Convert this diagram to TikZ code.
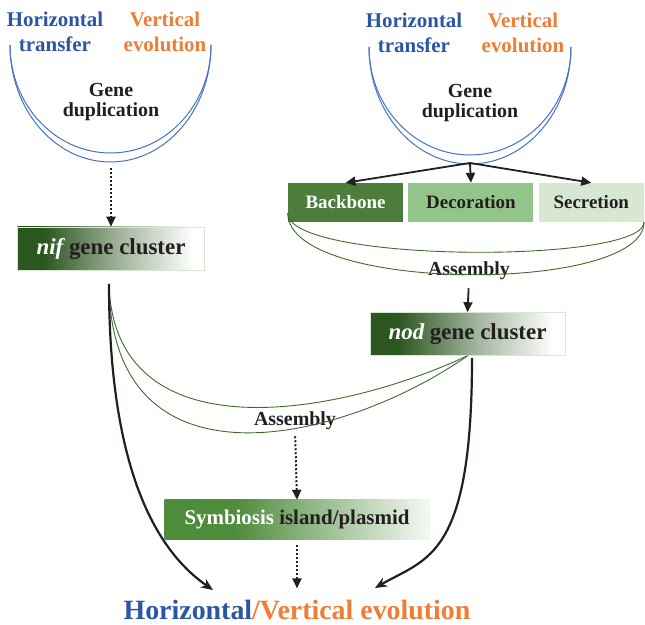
\documentclass[tikz,border=0pt]{standalone}
\usepackage{fontspec}
\setmainfont{Liberation Serif}
\usetikzlibrary{arrows.meta,positioning,calc}
\definecolor{HorizBlue}{HTML}{2B55A5}
\definecolor{VertOrange}{HTML}{EE7D35}
\definecolor{ArcBlue}{HTML}{4472C4}
\definecolor{InkBlack}{HTML}{231F20}
\definecolor{BackboneGreen}{HTML}{4C7D3B}
\definecolor{DecorGreen}{HTML}{93C48A}
\definecolor{SecretGreen}{HTML}{D6E8D1}
\definecolor{ClusterDark}{HTML}{2C5620}
\definecolor{IslandGreen}{HTML}{4E8B3B}
\definecolor{AsmGreen}{HTML}{3E6B2C}
\colorlet{IslandPale}{IslandGreen!8!white}
\colorlet{ClusterMid}{ClusterDark!45!white}
\pgfdeclarehorizontalshading{clustershade}{100bp}{color(0bp)=(ClusterDark); color(32bp)=(ClusterDark); color(52bp)=(ClusterMid); color(72bp)=(white); color(100bp)=(white)}
\pgfdeclarehorizontalshading{islandshade}{100bp}{color(0bp)=(IslandGreen); color(38bp)=(IslandGreen); color(74bp)=(IslandPale); color(100bp)=(white)}

\begin{document}
\begin{tikzpicture}[x=1bp, y=1bp,
    lbl/.style={font=\bfseries\fontsize{21}{25}\selectfont, align=center, inner sep=0pt},
    gene/.style={font=\bfseries\fontsize{20}{21}\selectfont, text=InkBlack, align=center, inner sep=0pt},
    part/.style={font=\bfseries\fontsize{19}{19}\selectfont, minimum height=39bp, inner sep=0pt},
    cluster/.style={shading=clustershade, draw=SecretGreen, line width=0.6bp, font=\bfseries\fontsize{23}{23}\selectfont, text=InkBlack, minimum height=43bp, inner sep=0pt},
    island/.style={shading=islandshade, font=\bfseries\fontsize{21}{21}\selectfont, text=InkBlack, minimum height=40bp, inner sep=0pt},
    dupline/.style={draw=ArcBlue, line width=1bp},
    asmline/.style={draw=AsmGreen, line width=0.9bp},
    solidarr/.style={-{Triangle[length=10bp,width=9bp]}, line width=1.8bp, draw=InkBlack},
    dotarr/.style={-{Triangle[length=10bp,width=9bp]}, dash pattern=on 2bp off 2bp, line width=2bp, draw=InkBlack},
    bigarr/.style={-{Stealth[length=12bp,width=10bp]}, line width=2.2bp, draw=InkBlack}
  ]
    \useasboundingbox (0,0) rectangle (645,625);

    % Left: gene duplication of the nif cluster
    \node[lbl, text=HorizBlue] (horizL) at (55,593) {Horizontal\\transfer};
    \node[lbl, text=VertOrange] (vertL) at (165,593) {Vertical\\evolution};
    \node[gene] (dupL) at (111,523) {Gene\\duplication};
    \draw[dupline] (10,580) arc[start angle=180, end angle=360, x radius=100.5, y radius=117];
    \draw[dupline] (10,580) arc[start angle=180, end angle=360, x radius=100.5, y radius=108];
    \coordinate (dupLout) at (111,457);

    % Right: gene duplication of the nod parts
    \node[lbl, text=HorizBlue] (horizR) at (414,592) {Horizontal\\transfer};
    \node[lbl, text=VertOrange] (vertR) at (523,592) {Vertical\\evolution};
    \node[gene] (dupR) at (470,522) {Gene\\duplication};
    \draw[dupline] (369,578) arc[start angle=180, end angle=360, x radius=101, y radius=117];
    \draw[dupline] (369,578) arc[start angle=180, end angle=360, x radius=101, y radius=108];
    \coordinate (split) at (470,462);

    % Boxes
    \node[cluster, minimum width=187bp] (nif) at (111,376.5) {\textcolor{white}{\itshape nif} gene cluster};
    \node[part, fill=BackboneGreen, text=white, minimum width=115bp] (backbone) at (345.5,422.5) {Backbone};
    \node[part, fill=DecorGreen, text=InkBlack, minimum width=125bp, right=5bp of backbone] (decoration) {Decoration};
    \node[part, fill=SecretGreen, text=InkBlack, minimum width=105bp, right=5bp of decoration] (secretion) {Secretion};
    \node[gene] (asm1) at (469,354) {Assembly};
    \node[cluster, minimum width=195bp] (nod) at (467.5,291) {\textcolor{white}{\itshape nod} gene cluster};
    \node[gene] (asm2) at (295,204) {Assembly};
    \node[island, minimum width=265bp] (sym) at (297,105) {\textcolor{white}{Symbiosis} island/plasmid};
    \node[font=\bfseries\fontsize{28}{28}\selectfont, inner sep=0pt, anchor=base] (evo) at (297,5) {\textcolor{HorizBlue}{Horizontal}\textcolor{VertOrange}{/Vertical evolution}};

    \coordinate (nifout) at (109,341);
    \coordinate (nodout) at (472,267);
    \coordinate (tipL) at (213,35);
    \coordinate (tipR) at (375,37);

    % Connectors
    \draw[dotarr] (dupLout) -- (nif.north);
    \foreach \part in {backbone,decoration,secretion}
      \draw[solidarr] (split) -- (\part.north);
    \draw[asmline] ($(backbone.south west)+(0,9)$) .. controls +(0,-50) and +(0,-42) .. (secretion.south east);
    \draw[asmline] ($(backbone.south west)+(0,9)$) .. controls +(0,-80) and +(0,-72) .. (secretion.south east);
    \draw[solidarr, shorten <=8bp] (asm1.south) -- (nod.north);
    \draw[asmline] (nifout) .. controls +(5,-169) and +(-136,-63) .. (nod.south);
    \draw[asmline] (nifout) .. controls +(2,-215) and +(-123,-86) .. (nod.south);
    \draw[dotarr, shorten <=6bp] (asm2.south) -- (sym.north);
    \draw[dotarr, shorten <=5bp, shorten >=12bp] (sym.south) -- (evo.north);
    \draw[bigarr] (nifout) .. controls +(0,-200) and +(-49,34) .. (tipL);
    \draw[bigarr] (nodout) .. controls +(0,-200) and +(52,30) .. (tipR);

  \end{tikzpicture}
\end{document}
